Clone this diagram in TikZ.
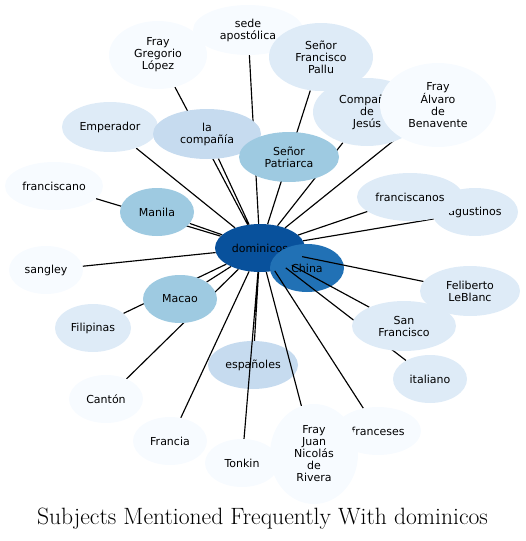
\documentclass[tikz,border=0pt]{standalone}
\usepackage{fontspec}
\newfontfamily\labelfont{DejaVu Sans}
\usetikzlibrary{shapes.geometric}
\definecolor{bluea}{HTML}{F7FBFF}
\definecolor{blueb}{HTML}{DEEBF7}
\definecolor{bluec}{HTML}{C6DBEF}
\definecolor{blued}{HTML}{9ECAE1}
\definecolor{bluee}{HTML}{2171B5}
\definecolor{bluef}{HTML}{08519C}
\pgfdeclarelayer{low}
\pgfdeclarelayer{edges}
\pgfsetlayers{low,edges,main}

\begin{document}
\begin{tikzpicture}[x=1pt,y=-1pt,
 bub/.style={ellipse,inner sep=0pt,align=center,font=\labelfont\fontsize{11}{12}\selectfont},
 tie/.style={line width=1.15pt}]
\useasboundingbox (0,0) rectangle (526,541);
\begin{pgfonlayer}{low}
\node[bub,fill=bluef,minimum width=90,minimum height=48] (dom) at (260,248) {dominicos};
\node[bub,fill=bluee,minimum width=74,minimum height=48] (china) at (307,268) {China};
\node[bub,fill=bluec,minimum width=90,minimum height=48] (espan) at (253,365) {españoles};
\end{pgfonlayer}
\node[bub,fill=bluea,minimum width=110,minimum height=50] (sede) at (248,30) {sede\\apostólica};
\node[bub,fill=bluea,minimum width=98,minimum height=68] (greg) at (158,55) {Fray\\Gregorio\\López};
\node[bub,fill=blueb,minimum width=104,minimum height=68] (pallu) at (321,57) {Señor\\Francisco\\Pallu};
\node[bub,fill=blueb,minimum width=108,minimum height=68] (cdj) at (367,112) {Compañía\\de\\Jesús};
\node[bub,fill=bluea,minimum width=116,minimum height=84] (alvaro) at (438,105) {Fray\\Álvaro\\de\\Benavente};
\node[bub,fill=blueb,minimum width=96,minimum height=50] (emp) at (110,127) {Emperador};
\node[bub,fill=bluec,minimum width=108,minimum height=50] (lacomp) at (207,134) {la\\compañía};
\node[bub,fill=blued,minimum width=100,minimum height=50] (patri) at (289,157) {Señor\\Patriarca};
\node[bub,fill=bluea,minimum width=98,minimum height=48] (fcano) at (54,186) {franciscano};
\node[bub,fill=blued,minimum width=74,minimum height=48] (manila) at (157,212) {Manila};
\node[bub,fill=blueb,minimum width=86,minimum height=48] (agus) at (475,212) {agustinos};
\node[bub,fill=blueb,minimum width=106,minimum height=48] (fcanos) at (410,197) {franciscanos};
\node[bub,fill=bluea,minimum width=74,minimum height=48] (sangley) at (46,270) {sangley};
\node[bub,fill=blued,minimum width=74,minimum height=48] (macao) at (180,299) {Macao};
\node[bub,fill=blueb,minimum width=76,minimum height=48] (filip) at (93,328) {Filipinas};
\node[bub,fill=blueb,minimum width=100,minimum height=50] (feli) at (470,291) {Feliberto\\LeBlanc};
\node[bub,fill=blueb,minimum width=104,minimum height=50] (sanfr) at (404,326) {San\\Francisco};
\node[bub,fill=blueb,minimum width=74,minimum height=48] (ital) at (430,379) {italiano};
\node[bub,fill=bluea,minimum width=74,minimum height=48] (canton) at (106,399) {Cantón};
\node[bub,fill=bluea,minimum width=74,minimum height=48] (francia) at (170,441) {Francia};
\node[bub,fill=bluea,minimum width=74,minimum height=48] (tonkin) at (242,463) {Tonkin};
\node[bub,fill=bluea,minimum width=86,minimum height=48] (frances) at (378,431) {franceses};
\node[bub,fill=bluea,minimum width=88,minimum height=100] (rivera) at (314,454) {Fray\\Juan\\Nicolás\\de\\Rivera};
\begin{pgfonlayer}{edges}
\draw[tie] (dom)--(sede) (dom)--(greg) (dom)--(pallu) (dom)--(cdj) (dom)--(alvaro)
 (dom)--(emp) (dom)--(lacomp) (dom)--(patri) (dom)--(fcano) (dom)--(manila)
 (dom)--(agus) (dom)--(fcanos) (dom)--(sangley) (dom)--(macao) (dom)--(filip)
 (dom)--(feli) (dom)--(sanfr) (dom)--(ital) (dom)--(canton) (dom)--(francia)
 (dom)--(tonkin) (dom)--(frances) (dom)--(rivera) (dom)--(espan);
\end{pgfonlayer}
\node (title) at (262.5,519) {\fontsize{23.6}{26}\selectfont Subjects Mentioned Frequently With dominicos};
\end{tikzpicture}
\end{document}
